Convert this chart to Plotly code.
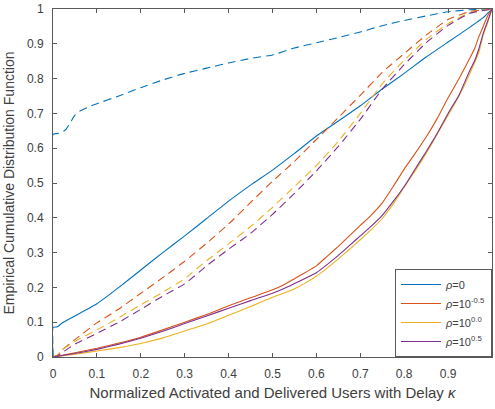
import plotly.graph_objects as go

# Empirical CDFs of the normalized delivered-user fraction for each rho.
# Solid curves: one scheme; dashed curves: the other scheme.
x_grid = [0, 0.05, 0.1, 0.15, 0.2, 0.25, 0.3, 0.35, 0.4, 0.45, 0.5, 0.525,
          0.55, 0.575, 0.6, 0.625, 0.65, 0.675, 0.7, 0.725, 0.75, 0.775, 0.8,
          0.825, 0.85, 0.875, 0.9, 0.925, 0.95, 0.96, 0.97, 0.98, 0.99, 1.0]

solid_rho0_x = [0, 0, 0.01, 0.02, 0.05, 0.1, 0.15, 0.2, 0.25, 0.3, 0.35, 0.4, 0.45,
                0.5, 0.55, 0.6, 0.65, 0.7, 0.75, 0.8, 0.85, 0.9, 0.95, 0.98, 1.0]
solid_rho0_y = [0, 0.085, 0.087, 0.097, 0.118, 0.153, 0.2, 0.25, 0.3, 0.348, 0.398,
                0.448, 0.494, 0.537, 0.585, 0.635, 0.678, 0.722, 0.77, 0.815, 0.862,
                0.905, 0.948, 0.975, 1.0]

solid_rho_m05 = [0.0, 0.012, 0.025, 0.04, 0.057, 0.078, 0.1, 0.122, 0.147, 0.17,
                 0.193, 0.207, 0.225, 0.243, 0.262, 0.29, 0.318, 0.348, 0.378, 0.408,
                 0.443, 0.49, 0.54, 0.585, 0.632, 0.685, 0.745, 0.80, 0.86, 0.885,
                 0.92, 0.95, 0.98, 1.0]
solid_rho_00 = [0.0, 0.008, 0.017, 0.027, 0.039, 0.055, 0.075, 0.095, 0.12, 0.145,
                0.172, 0.183, 0.196, 0.213, 0.232, 0.256, 0.282, 0.309, 0.337, 0.366,
                0.398, 0.44, 0.488, 0.535, 0.585, 0.64, 0.695, 0.75, 0.815, 0.845,
                0.875, 0.925, 0.96, 1.0]
solid_rho_p05 = [0.0, 0.01, 0.022, 0.037, 0.054, 0.074, 0.096, 0.118, 0.14, 0.162,
                 0.183, 0.196, 0.211, 0.226, 0.242, 0.266, 0.292, 0.32, 0.348, 0.376,
                 0.407, 0.447, 0.49, 0.54, 0.59, 0.642, 0.70, 0.753, 0.825, 0.85,
                 0.885, 0.93, 0.965, 1.0]

dash_rho0_x = [0, 0, 0.01, 0.02, 0.03, 0.04, 0.05, 0.06, 0.08, 0.1, 0.15, 0.2, 0.25,
               0.3, 0.35, 0.4, 0.45, 0.5, 0.55, 0.6, 0.65, 0.7, 0.75, 0.8, 0.85,
               0.9, 0.95, 1.0]
dash_rho0_y = [0, 0.64, 0.642, 0.645, 0.655, 0.675, 0.695, 0.706, 0.718, 0.728, 0.75,
               0.774, 0.796, 0.815, 0.83, 0.845, 0.858, 0.868, 0.888, 0.903, 0.918,
               0.934, 0.952, 0.967, 0.98, 0.992, 0.998, 1.0]

dash_x = [0, 0.01, 0.02, 0.05, 0.1, 0.15, 0.2, 0.25, 0.3, 0.35, 0.4, 0.45, 0.5,
          0.55, 0.6, 0.65, 0.7, 0.75, 0.8, 0.85, 0.9, 0.95, 1.0]
dash_rho_m05 = [0, 0.005, 0.02, 0.05, 0.098, 0.138, 0.183, 0.228, 0.275, 0.327,
                0.382, 0.444, 0.505, 0.562, 0.625, 0.688, 0.752, 0.818, 0.872,
                0.925, 0.97, 0.993, 1.0]
dash_rho_00 = [0, 0.005, 0.02, 0.045, 0.078, 0.113, 0.15, 0.186, 0.225, 0.277,
               0.325, 0.375, 0.43, 0.49, 0.55, 0.62, 0.7, 0.785, 0.853, 0.912,
               0.958, 0.99, 1.0]
dash_rho_p05 = [0, 0.003, 0.012, 0.037, 0.068, 0.1, 0.137, 0.175, 0.21, 0.262,
                0.31, 0.355, 0.41, 0.47, 0.535, 0.605, 0.683, 0.77, 0.84, 0.903,
                0.953, 0.988, 1.0]

labels = ["<i>ρ</i>=0", "<i>ρ</i>=10<sup>-0.5</sup>",
          "<i>ρ</i>=10<sup>0.0</sup>", "<i>ρ</i>=10<sup>0.5</sup>"]
colors = ["#0072BD", "#D95319", "#EDB120", "#7E2F8E"]

solid_series = [(solid_rho0_x, solid_rho0_y), (x_grid, solid_rho_m05),
                (x_grid, solid_rho_00), (x_grid, solid_rho_p05)]
dash_series = [(dash_rho0_x, dash_rho0_y), (dash_x, dash_rho_m05),
               (dash_x, dash_rho_00), (dash_x, dash_rho_p05)]

fig = go.Figure()
for (xs, ys), name, c in zip(solid_series, labels, colors):
    fig.add_trace(go.Scatter(x=xs, y=ys, mode="lines", name=name,
                             line=dict(color=c, width=1.1, shape="spline",
                                       smoothing=0.4)))
for (xs, ys), name, c in zip(dash_series, labels, colors):
    fig.add_trace(go.Scatter(x=xs, y=ys, mode="lines", name=name, showlegend=False,
                             line=dict(color=c, width=1.1, dash="8px,5px",
                                       shape="spline", smoothing=0.4)))

axis_color = "#5a5a5a"
text_color = "#404040"
common_axis = dict(range=[0, 1], dtick=0.1, tick0=0, ticks="inside", ticklen=4,
                   tickcolor=axis_color, showline=True, linecolor=axis_color,
                   linewidth=1, mirror="ticks", showgrid=False, zeroline=False,
                   tickfont=dict(size=12, color=text_color))

fig.update_layout(
    width=495, height=409,
    margin=dict(l=53, r=2, t=7, b=52),
    paper_bgcolor="white", plot_bgcolor="white",
    font=dict(family="Liberation Sans, Arial, sans-serif", color=text_color),
    xaxis=dict(**common_axis, ticklabelstandoff=6,
               title=dict(text="Normalized Activated and Delivered Users with Delay <i>κ</i>",
                          font=dict(size=15, color=text_color), standoff=7)),
    yaxis=dict(**common_axis, ticklabelstandoff=6,
               title=dict(text="Empirical Cumulative Distribution Function",
                          font=dict(size=14, color=text_color), standoff=9)),
    legend=dict(x=1, y=0, xanchor="right", yanchor="bottom",
                bgcolor="white", bordercolor=axis_color, borderwidth=1,
                font=dict(size=11, color=text_color), itemwidth=40,
                tracegroupgap=0),
    showlegend=True,
)

fig.write_html("out.html")
